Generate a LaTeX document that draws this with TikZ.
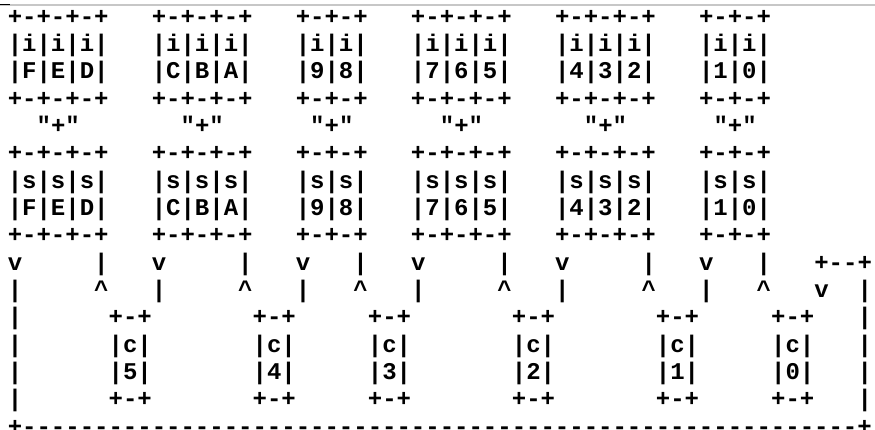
\documentclass[tikz,border=0pt]{standalone}
\usepackage{fontspec}
\setmonofont{Liberation Mono}
\usepackage{tikz}
\newcommand{\caret}{\textasciicircum}

\begin{document}
\begin{tikzpicture}[x=0.75pt,y=-0.75pt,
    txtrow/.style={anchor=base west, inner sep=0pt, outer sep=0pt, font=\ttfamily\bfseries\fontsize{18}{20}\selectfont},
    rule/.style={draw=black!22, line width=0.8pt}
]
\useasboundingbox (0,0) rectangle (875,429);
\draw[rule] (0,5) -- (875,5);
\draw[line width=1pt] (0,4.5) -- (10,4.5);

% i bits
\node[txtrow] (itop) at (7.8,24.0) {+-+-+-+~~~+-+-+-+~~~+-+-+~~~+-+-+-+~~~+-+-+-+~~~+-+-+};
\node[txtrow] (ibit) at (7.8,51.35) {|i|i|i|~~~|i|i|i|~~~|i|i|~~~|i|i|i|~~~|i|i|i|~~~|i|i|};
\node[txtrow] (inum) at (7.8,78.7) {|F|E|D|~~~|C|B|A|~~~|9|8|~~~|7|6|5|~~~|4|3|2|~~~|1|0|};
\node[txtrow] (ibot) at (7.8,106.05) {+-+-+-+~~~+-+-+-+~~~+-+-+~~~+-+-+-+~~~+-+-+-+~~~+-+-+};
\node[txtrow] (plus) at (7.8,133.4) {~~"+"~~~~~~~"+"~~~~~~"+"~~~~~~"+"~~~~~~~"+"~~~~~~"+"};

% s bits
\node[txtrow] (stop) at (7.8,160.75) {+-+-+-+~~~+-+-+-+~~~+-+-+~~~+-+-+-+~~~+-+-+-+~~~+-+-+};
\node[txtrow] (sbit) at (7.8,188.1) {|s|s|s|~~~|s|s|s|~~~|s|s|~~~|s|s|s|~~~|s|s|s|~~~|s|s|};
\node[txtrow] (snum) at (7.8,215.45) {|F|E|D|~~~|C|B|A|~~~|9|8|~~~|7|6|5|~~~|4|3|2|~~~|1|0|};
\node[txtrow] (sbot) at (7.8,242.8) {+-+-+-+~~~+-+-+-+~~~+-+-+~~~+-+-+-+~~~+-+-+-+~~~+-+-+};

% wires
\node[txtrow] (down) at (7.8,270.15) {v~~~~~|~~~v~~~~~|~~~v~~~|~~~v~~~~~|~~~v~~~~~|~~~v~~~|~~~+--+};
\node[txtrow] (up) at (7.8,297.5) {|~~~~~\caret~~~|~~~~~\caret~~~|~~~\caret~~~|~~~~~\caret~~~|~~~~~\caret~~~|~~~\caret~~~v~~|};

% c bits
\node[txtrow] (ctop) at (7.8,324.85) {|~~~~~~+-+~~~~~~~+-+~~~~~+-+~~~~~~~+-+~~~~~~~+-+~~~~~+-+~~~|};
\node[txtrow] (cbit) at (7.8,352.2) {|~~~~~~|c|~~~~~~~|c|~~~~~|c|~~~~~~~|c|~~~~~~~|c|~~~~~|c|~~~|};
\node[txtrow] (cnum) at (7.8,379.55) {|~~~~~~|5|~~~~~~~|4|~~~~~|3|~~~~~~~|2|~~~~~~~|1|~~~~~|0|~~~|};
\node[txtrow] (cbot) at (7.8,406.9) {|~~~~~~+-+~~~~~~~+-+~~~~~+-+~~~~~~~+-+~~~~~~~+-+~~~~~+-+~~~|};
\node[txtrow] (loop) at (7.8,434.25) {+----------------------------------------------------------+};
\end{tikzpicture}
\end{document}
